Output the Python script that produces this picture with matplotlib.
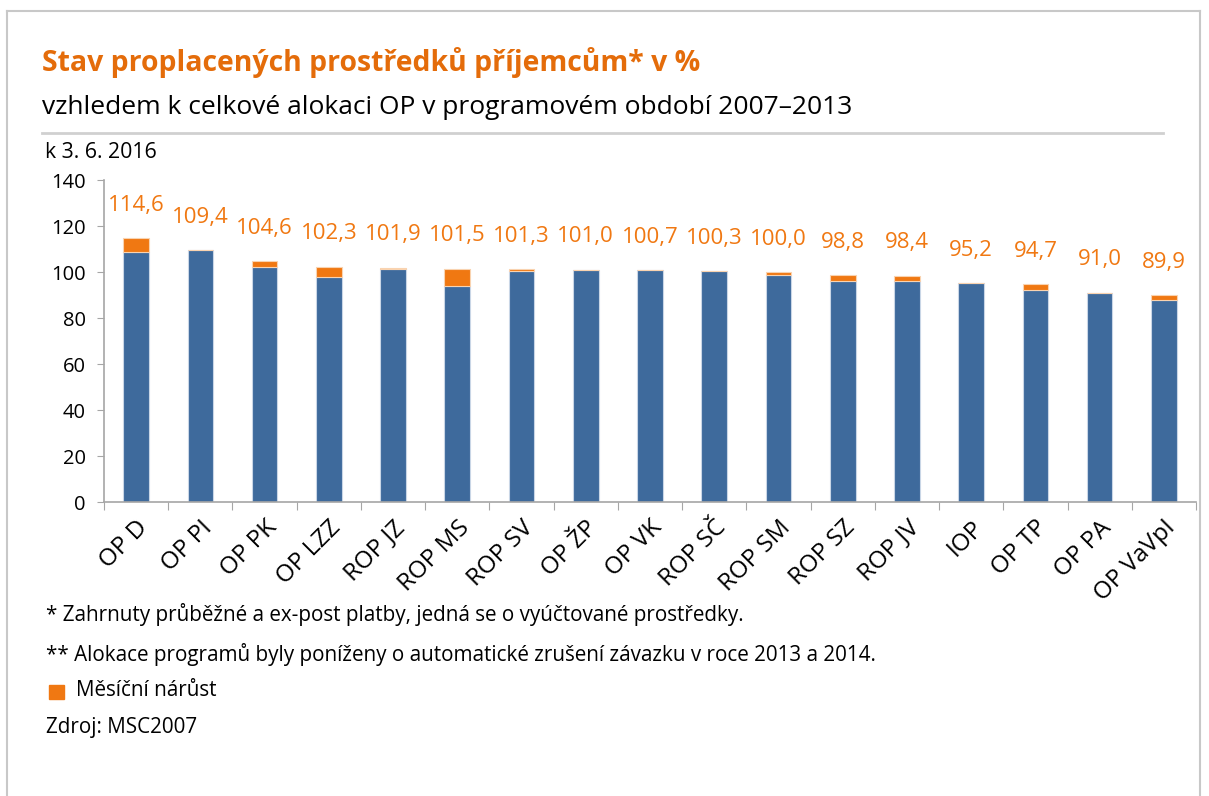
import matplotlib
matplotlib.use("Agg")
import matplotlib.pyplot as plt
from matplotlib.patches import Rectangle
from matplotlib.lines import Line2D

plt.rcParams['font.family'] = ['Open Sans', 'DejaVu Sans']

# data
programy = ['OP D', 'OP PI', 'OP PK', 'OP LZZ', 'ROP JZ', 'ROP MS', 'ROP SV', 'OP ŽP',
            'OP VK', 'ROP SČ', 'ROP SM', 'ROP SZ', 'ROP JV', 'IOP', 'OP TP', 'OP PA',
            'OP VaVpI']
celkem = [114.6, 109.4, 104.6, 102.3, 101.9, 101.5, 101.3, 101.0, 100.7, 100.3,
          100.0, 98.8, 98.4, 95.2, 94.7, 91.0, 89.9]
predchozi = [108.7, 109.4, 102.2, 97.9, 101.4, 94.0, 100.6, 100.7, 100.7, 100.3,
             98.5, 95.9, 96.3, 95.2, 92.3, 91.0, 87.8]
narust = [c - p for c, p in zip(celkem, predchozi)]
yticks = [0, 20, 40, 60, 80, 100, 120, 140]

modra = '#3e6a9c'
oranz = '#f07812'
titul = '#e46c0a'
seda = '#a6a6a6'

W, H = 1209, 796
fig = plt.figure(figsize=(W / 100, H / 100), dpi=100)

# ramecek
fig.add_artist(Line2D([7 / W, 7 / W], [0, 1 - 11 / H], color='#c8c8c8', lw=1.5))
fig.add_artist(Line2D([7 / W, 1200 / W], [1 - 11 / H, 1 - 11 / H], color='#c8c8c8', lw=1.5))
fig.add_artist(Line2D([1200 / W, 1200 / W], [0, 1 - 11 / H], color='#c8c8c8', lw=1.5))

fig.text(42 / W, 1 - 62 / H, 'Stav proplacených prostředků příjemcům* v %',
         color=titul, fontsize=20.4, fontweight='bold', va='center', ha='left')
fig.text(42 / W, 1 - 108 / H, 'vzhledem k celkové alokaci OP v programovém období 2007–2013',
         color='black', fontsize=19, va='center', ha='left')
fig.add_artist(Line2D([42 / W, 1163 / W], [1 - 133 / H, 1 - 133 / H], color='#d0d0d0', lw=2))
fig.text(45 / W, 1 - 152 / H, 'k 3. 6. 2016', fontsize=15.3, va='center', ha='left')

ax = fig.add_axes([104 / W, 1 - 502 / H, (1196 - 104) / W, (502 - 180) / H])
x = range(len(programy))
ax.bar(x, predchozi, width=0.4, color=modra, edgecolor='#c9d6e6', linewidth=0.8, zorder=2)
ax.bar(x, narust, bottom=predchozi, width=0.4, color=oranz, edgecolor='#f9d3b0',
       linewidth=0.8, zorder=2)

for i, v in enumerate(celkem):
    ax.annotate(('%.1f' % v).replace('.', ','), (i, v), xytext=(0, 16),
                textcoords='offset points', ha='center', va='bottom',
                color=oranz, fontsize=16)

ax.set_xlim(-0.5, len(programy) - 0.5)
ax.set_ylim(0, 140)
ax.set_yticks(yticks)
ax.set_yticklabels([str(t) for t in yticks], fontsize=14.5)
ax.set_xticks([i - 0.5 for i in range(len(programy) + 1)])
ax.set_xticklabels([])
ax.set_xticks(list(x), minor=True)
ax.set_xticklabels(programy, minor=True, rotation=45, ha='right',
                   rotation_mode='anchor', fontsize=17.5)
ax.tick_params(axis='x', which='minor', length=0, pad=10)
ax.tick_params(axis='x', which='major', length=6, color=seda, direction='out')
ax.tick_params(axis='y', length=5, color=seda, direction='out', pad=8)
for s in ['top', 'right']:
    ax.spines[s].set_visible(False)
for s in ['left', 'bottom']:
    ax.spines[s].set_color(seda)
    ax.spines[s].set_linewidth(1.2)

fig.text(46 / W, 1 - 615 / H, '* Zahrnuty průběžné a ex-post platby, jedná se o vyúčtované prostředky.',
         fontsize=14.9, va='center', ha='left')
fig.text(46 / W, 1 - 655 / H, '** Alokace programů byly poníženy o automatické zrušení závazku v roce 2013 a 2014.',
         fontsize=14.9, va='center', ha='left')
fig.add_artist(Rectangle((49 / W, 1 - 699 / H), 15 / W, 14 / H, color=oranz))
fig.text(76 / W, 1 - 690 / H, 'Měsíční nárůst', fontsize=14.9, va='center', ha='left')
fig.text(46 / W, 1 - 727 / H, 'Zdroj: MSC2007', fontsize=14.9, va='center', ha='left')

fig.savefig('out.png', dpi=100)
